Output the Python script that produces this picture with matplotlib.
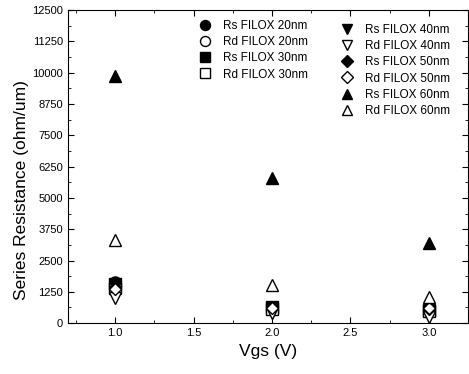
import matplotlib
matplotlib.use("Agg")
import matplotlib.pyplot as plt
from matplotlib.ticker import MultipleLocator

plt.rcParams['font.family'] = ['Liberation Sans', 'DejaVu Sans']

vgs = [1.0, 2.0, 3.0]
rs_20 = [1650, 620, 520]
rd_20 = [1450, 600, 480]
rs_30 = [1550, 630, 540]
rd_30 = [1400, 580, 500]
rs_40 = [1250, 560, 430]
rd_40 = [1000, 420, 250]
rs_50 = [1600, 640, 560]
rd_50 = [1350, 620, 600]
rs_60 = [9850, 5800, 3200]
rd_60 = [3300, 1520, 1050]

series = [
    ("Rs FILOX 20nm", rs_20, "o", True),
    ("Rd FILOX 20nm", rd_20, "o", False),
    ("Rs FILOX 30nm", rs_30, "s", True),
    ("Rd FILOX 30nm", rd_30, "s", False),
    ("Rs FILOX 40nm", rs_40, "v", True),
    ("Rd FILOX 40nm", rd_40, "v", False),
    ("Rs FILOX 50nm", rs_50, "D", True),
    ("Rd FILOX 50nm", rd_50, "D", False),
    ("Rs FILOX 60nm", rs_60, "^", True),
    ("Rd FILOX 60nm", rd_60, "^", False),
]

fig = plt.figure(figsize=(4.69, 3.74), dpi=100)
ax = fig.add_axes([0.145, 0.136, 0.853, 0.837])

handles = []
for label, vals, mk, filled in series:
    ms = 6.5 if mk == "D" else 8
    h, = ax.plot(vgs, vals, linestyle="none", marker=mk, markersize=ms,
                 markerfacecolor="black" if filled else "white",
                 markeredgecolor="black", markeredgewidth=1.0, label=label)
    handles.append(h)

ax.set_xlim(0.7, 3.25)
ax.set_ylim(0, 12500)
ax.xaxis.set_major_locator(MultipleLocator(0.5))
ax.xaxis.set_minor_locator(MultipleLocator(0.25))
ax.yaxis.set_major_locator(MultipleLocator(1250))
ax.yaxis.set_minor_locator(MultipleLocator(625))
ax.tick_params(which="both", direction="in", top=True, right=True, labelsize=8)
ax.tick_params(which="major", length=4)
ax.tick_params(which="minor", length=2)
ax.set_xticklabels([f"{t:.1f}" for t in ax.get_xticks()])

ax.set_xlabel("Vgs (V)", fontsize=12.5)
ax.set_ylabel("Series Resistance (ohm/um)", fontsize=12.5)
ax.yaxis.set_label_coords(-0.097, 0.425)

leg_kw = dict(frameon=False, fontsize=8.5, handletextpad=0.95, labelspacing=0.36,
              handlelength=1.2, markerscale=0.9)
leg1 = ax.legend(handles=handles[:4], loc="upper left", bbox_to_anchor=(0.297, 1.003), **leg_kw)
ax.add_artist(leg1)
ax.legend(handles=handles[4:], loc="upper left", bbox_to_anchor=(0.652, 0.99), **leg_kw)

fig.savefig("out.png", dpi=100)
